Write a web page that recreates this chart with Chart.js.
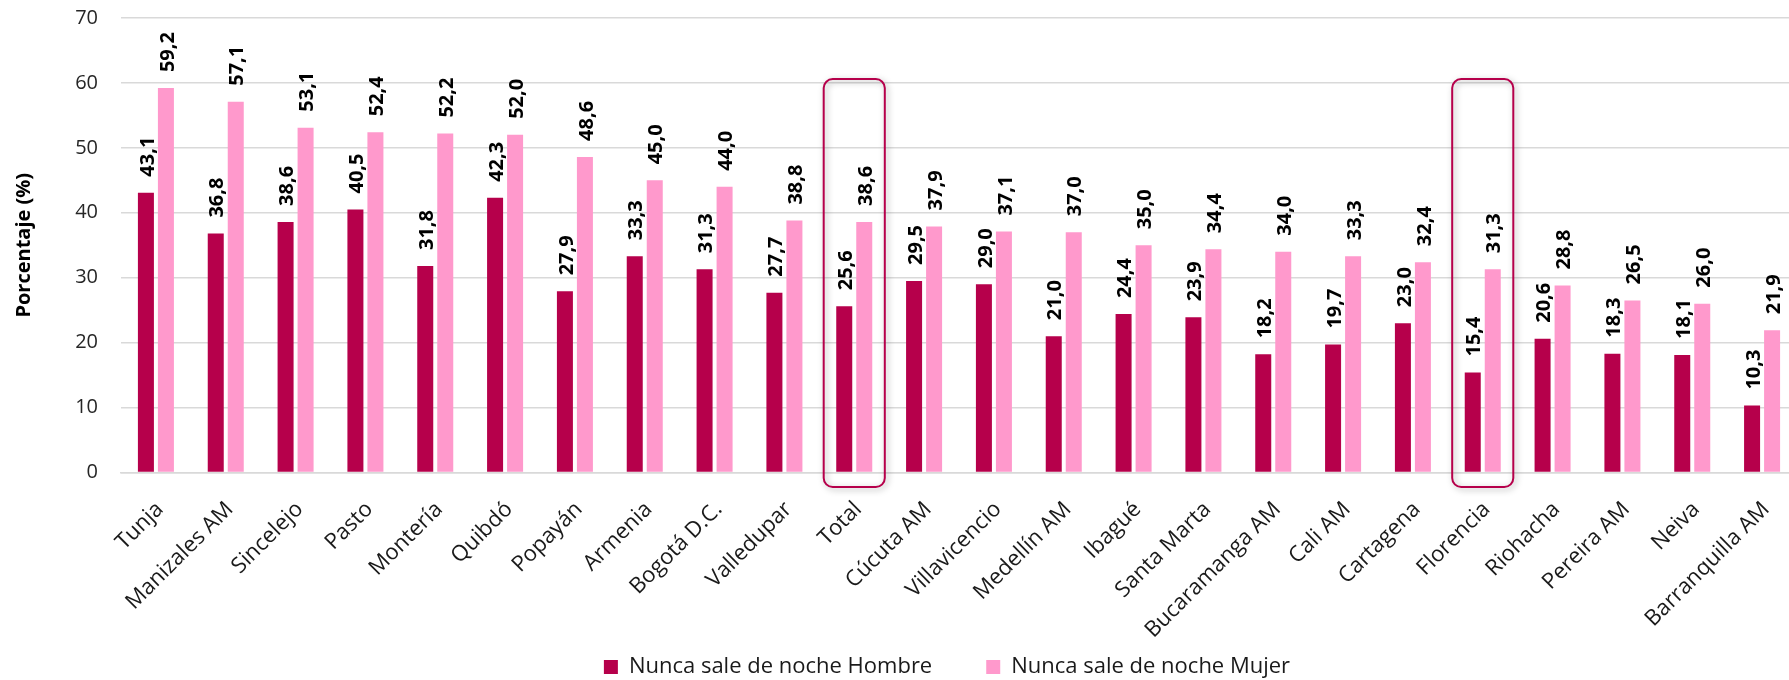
<!DOCTYPE html>
<html>
<head>
<meta charset="utf-8">
<script src="https://cdn.jsdelivr.net/npm/chart.js@4"></script>
<style>
  html, body { margin: 0; padding: 0; overflow: hidden; background: #ffffff; }
  #wrap { width: 1894px; height: 680px; }
</style>
</head>
<body>
<div id="wrap"><canvas id="c" width="1894" height="680"></canvas></div>
<script>
const categories = ["Tunja","Manizales AM","Sincelejo","Pasto","Montería","Quibdó","Popayán","Armenia","Bogotá D.C.","Valledupar","Total","Cúcuta AM","Villavicencio","Medellín AM","Ibagué","Santa Marta","Bucaramanga AM","Cali AM","Cartagena","Florencia","Riohacha","Pereira AM","Neiva","Barranquilla AM"];
const hombre = [43.1,36.8,38.6,40.5,31.8,42.3,27.9,33.3,31.3,27.7,25.6,29.5,29.0,21.0,24.4,23.9,18.2,19.7,23.0,15.4,20.6,18.3,18.1,10.3];
const mujer = [59.2,57.1,53.1,52.4,52.2,52.0,48.6,45.0,44.0,38.8,38.6,37.9,37.1,37.0,35.0,34.4,34.0,33.3,32.4,31.3,28.8,26.5,26.0,21.9];
const seriesNames = ["Nunca sale de noche Hombre","Nunca sale de noche Mujer"];
const yTicks = [0,10,20,30,40,50,60,70];
const highlighted = ["Total","Florencia"];
const yTitle = "Porcentaje (%)";

const FONT = "'Open Sans', 'Noto Sans', sans-serif";
const C_H = "#B6004B", C_M = "#FF99CC";

const labelPlugin = {
  id: 'valueLabels',
  afterDatasetsDraw(chart) {
    const ctx = chart.ctx;
    ctx.save();
    ctx.font = "bold 20px " + FONT;
    ctx.fillStyle = "#000000";
    ctx.textAlign = "left";
    ctx.textBaseline = "middle";
    chart.data.datasets.forEach((ds, di) => {
      const meta = chart.getDatasetMeta(di);
      meta.data.forEach((el, i) => {
        const v = ds.data[i];
        ctx.save();
        ctx.translate(el.x + 1, el.y - 16);
        ctx.rotate(-Math.PI / 2);
        ctx.fillText(v.toFixed(1).replace('.', ','), 0, 1);
        ctx.restore();
      });
    });
    ctx.restore();
  }
};

const boxPlugin = {
  id: 'highlightBoxes',
  afterDatasetsDraw(chart) {
    const ctx = chart.ctx;
    const xs = chart.scales.x, ys = chart.scales.y;
    const catW = (chart.chartArea.right - chart.chartArea.left) / categories.length;
    highlighted.forEach(name => {
      const idx = categories.indexOf(name);
      const cx = xs.getPixelForValue(idx);
      const w = catW * 0.875;
      const top = ys.getPixelForValue(60.6);
      const bottom = chart.chartArea.bottom + 14.5;
      ctx.save();
      ctx.shadowColor = "rgba(0,0,0,0.35)";
      ctx.shadowBlur = 6;
      ctx.shadowOffsetX = 2;
      ctx.shadowOffsetY = 2;
      ctx.strokeStyle = C_H;
      ctx.lineWidth = 2;
      ctx.beginPath();
      ctx.roundRect(cx - w / 2, top, w, bottom - top, 9);
      ctx.stroke();
      ctx.restore();
    });
  }
};

new Chart(document.getElementById('c'), {
  type: 'bar',
  data: {
    labels: categories,
    datasets: [
      { label: seriesNames[0], data: hombre, backgroundColor: C_H, borderWidth: 0, categoryPercentage: 0.573, barPercentage: 0.8 },
      { label: seriesNames[1], data: mujer, backgroundColor: C_M, borderWidth: 0, categoryPercentage: 0.573, barPercentage: 0.8 }
    ]
  },
  options: {
    responsive: false,
    animation: false,
    layout: { padding: { top: 18, left: 0, right: 0, bottom: -8 } },
    plugins: {
      tooltip: { enabled: false },
      legend: {
        position: 'bottom',
        labels: {
          boxWidth: 14, boxHeight: 14, padding: 54,
          color: '#1a1a1a',
          font: { family: FONT, size: 22 }
        }
      }
    },
    scales: {
      x: {
        grid: { display: false, drawTicks: false },
        border: { display: true, color: '#D9D9D9', width: 1.5 },
        ticks: {
          minRotation: 45, maxRotation: 45, autoSkip: false, padding: 24, labelOffset: 4,
          color: '#1a1a1a', font: { family: FONT, size: 22 }
        },
        afterFit(s) { s.height = 129.5; s._computeLabelArea = () => undefined; }
      },
      y: {
        min: 0, max: 70,
        afterBuildTicks(s) { s.ticks = yTicks.map(v => ({ value: v })); },
        grid: { color: '#D9D9D9', lineWidth: 1.5, drawTicks: true, tickLength: 23, tickColor: 'rgba(0,0,0,0)' },
        border: { display: false },
        ticks: { padding: 0, color: '#262626', font: { family: FONT, size: 20 } },
        title: { display: true, text: yTitle, color: '#000000', padding: { top: 12, bottom: 0 }, font: { family: FONT, size: 20, weight: 'bold' } },
        afterFit(s) { s.width = 121; }
      },
      yR: {
        position: 'right',
        display: true,
        grid: { display: false, drawTicks: false },
        border: { display: false },
        ticks: { display: false },
        afterFit(s) { s.width = 97; }
      }
    }
  },
  plugins: [labelPlugin, boxPlugin]
});
</script>
</body>
</html>
